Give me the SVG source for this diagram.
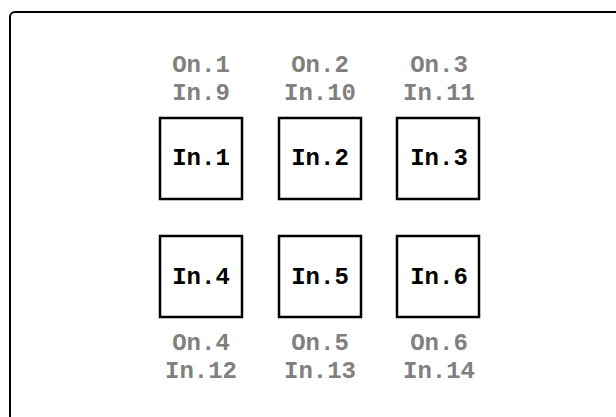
<svg xmlns="http://www.w3.org/2000/svg" width="616" height="417" viewBox="0 0 616 417">
<style>
.frame{fill:#fff;stroke:#000;stroke-width:2}
.box{fill:#fff;stroke:#000;stroke-width:2.5}
.t{font-family:"Courier New","Nimbus Mono PS","FreeMono","Liberation Mono",monospace;font-weight:bold;font-size:24px;text-anchor:middle}
.lbl{fill:#000}
.g{fill:#808080}
</style>
<rect width="616" height="417" fill="#fff"/>
<rect class="frame" x="10" y="12" width="700" height="500" rx="5"/>
<g id="connectors"></g>
<g id="n1"><rect class="box" x="160" y="118" width="82" height="81"/><text class="t lbl" x="201" y="165">In.1</text></g>
<g id="n2"><rect class="box" x="279" y="118" width="82" height="81"/><text class="t lbl" x="320" y="165">In.2</text></g>
<g id="n3"><rect class="box" x="397" y="118" width="82" height="81"/><text class="t lbl" x="439" y="165">In.3</text></g>
<g id="n4"><rect class="box" x="160" y="236" width="82" height="81"/><text class="t lbl" x="201" y="284">In.4</text></g>
<g id="n5"><rect class="box" x="279" y="236" width="82" height="81"/><text class="t lbl" x="320" y="284">In.5</text></g>
<g id="n6"><rect class="box" x="397" y="236" width="82" height="81"/><text class="t lbl" x="439" y="284">In.6</text></g>
<g id="top-labels">
<text class="t g" x="201" y="72">On.1</text><text class="t g" x="201" y="100">In.9</text>
<text class="t g" x="320" y="72">On.2</text><text class="t g" x="320" y="100">In.10</text>
<text class="t g" x="439" y="72">On.3</text><text class="t g" x="439" y="100">In.11</text>
</g>
<g id="bottom-labels">
<text class="t g" x="201" y="350">On.4</text><text class="t g" x="201" y="378">In.12</text>
<text class="t g" x="320" y="350">On.5</text><text class="t g" x="320" y="378">In.13</text>
<text class="t g" x="439" y="350">On.6</text><text class="t g" x="439" y="378">In.14</text>
</g>
</svg>
